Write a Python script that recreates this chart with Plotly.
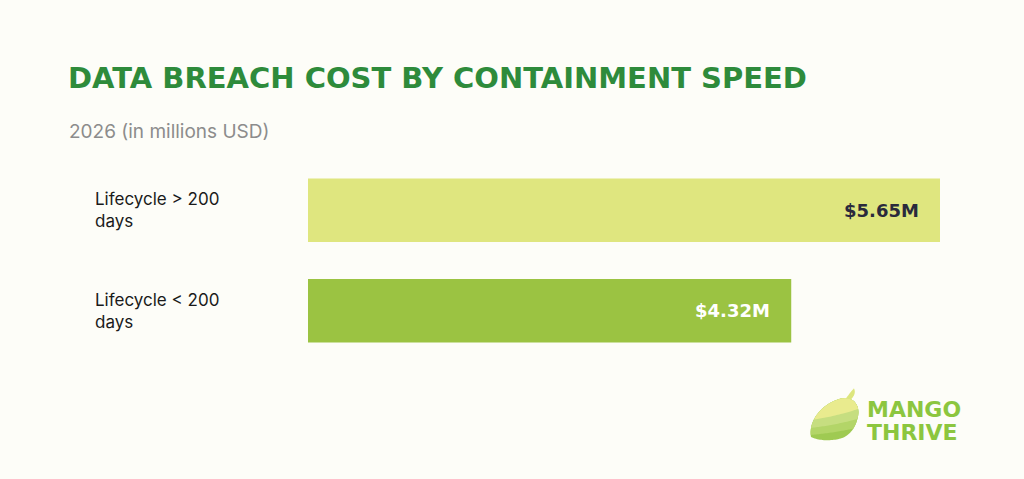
import numpy as np
import plotly.graph_objects as go

# data
categories = ["Lifecycle > 200<br>days", "Lifecycle < 200<br>days"]
costs = [5.65, 4.32]
value_labels = ["$5.65M", "$4.32M"]
bar_colors = ["#DFE67F", "#9BC342"]
value_colors = ["#2A2A3C", "#FFFFFF"]

W, H = 1024, 479
L, R = 308, 940          # plot area in pixels
T, B = 159.5, 361.5
BG = "#FDFDF8"


def px(x):
    return (x - L) / (R - L)


def py(y):
    return (B - y) / (B - T)


def bezier(p0, p1, p2, p3, n=24):
    t = np.linspace(0, 1, n)[:, None]
    p0, p1, p2, p3 = map(np.array, (p0, p1, p2, p3))
    return (1 - t)**3 * p0 + 3 * (1 - t)**2 * t * p1 + 3 * (1 - t) * t**2 * p2 + t**3 * p3


def poly_path(pts):
    s = "M " + " L ".join("%.5f,%.5f" % (px(x), py(y)) for x, y in pts)
    return s + " Z"


# mango outline (pixel coords), traced clockwise from the lower-left tip
segs = [
    ((811, 438), (808, 424), (820, 404), (842, 399)),
    ((842, 399), (855, 397), (860, 408), (858, 417)),
    ((858, 417), (856, 428), (850, 436), (842, 439)),
    ((842, 439), (832, 442), (820, 442), (811, 438)),
]
outline = np.vstack([bezier(*s) for s in segs])


def band(y_left, y_right, sag):
    # part of the mango above a gently curved line
    x = outline[:, 0]
    t = (x - 808) / 52.0
    c = y_left + (y_right - y_left) * t + sag * t * (1 - t)
    return np.column_stack([x, np.minimum(outline[:, 1], c)])


fig = go.Figure(go.Bar(
    x=costs,
    y=categories,
    orientation="h",
    width=0.634,
    marker=dict(color=bar_colors, line=dict(width=0)),
    hoverinfo="skip",
))

annotations = []
for cat, v, lab, c in zip(categories, costs, value_labels, value_colors):
    annotations.append(dict(
        x=v, y=cat, xref="x", yref="y", text="<b>%s</b>" % lab,
        showarrow=False, xanchor="right", xshift=-19,
        font=dict(family="DejaVu Sans", size=18, color=c),
    ))
    annotations.append(dict(
        x=px(93), y=cat, xref="paper", yref="y", text=cat,
        showarrow=False, xanchor="left", align="left",
        font=dict(family="Inter, Liberation Sans, Arial", size=17, color="#1A1A1A"),
    ))

annotations += [
    dict(x=px(66), y=py(77), xref="paper", yref="paper",
         text="<b>DATA BREACH COST BY CONTAINMENT SPEED</b>",
         showarrow=False, xanchor="left", yanchor="middle",
         font=dict(family="DejaVu Sans", size=29, color="#2E8B3B")),
    dict(x=px(67), y=py(131), xref="paper", yref="paper",
         text="2026 (in millions USD)",
         showarrow=False, xanchor="left", yanchor="middle",
         font=dict(family="Inter, Liberation Sans, Arial", size=19, color="#8C8C8C")),
    dict(x=px(865), y=py(410), xref="paper", yref="paper",
         text="<b>MANGO</b>", showarrow=False, xanchor="left", yanchor="middle",
         font=dict(family="DejaVu Sans", size=22, color="#8CC63F")),
    dict(x=px(865), y=py(433), xref="paper", yref="paper",
         text="<b>THRIVE</b>", showarrow=False, xanchor="left", yanchor="middle",
         font=dict(family="DejaVu Sans", size=22, color="#8CC63F")),
]

layers = [
    (outline, "#9FCA52"),
    (band(436, 428, 4), "#B3D568"),
    (band(429, 419, 5), "#C6DE80"),
    (band(421, 409, 6), "#E9EB8E"),
]
stem = np.vstack([bezier((846, 399), (849, 395), (851, 392), (854, 389)),
                  bezier((854, 389), (856, 393), (854, 397), (851, 400))])

shapes = [dict(type="path", xref="paper", yref="paper", path=poly_path(pts),
               fillcolor=col, line=dict(width=0), layer="above")
          for pts, col in layers]
shapes.append(dict(type="path", xref="paper", yref="paper", path=poly_path(stem),
                   fillcolor="#DDE67E", line=dict(width=0), layer="above"))

fig.update_layout(
    width=W, height=H,
    margin=dict(l=L, r=W - R, t=T, b=H - B, pad=0),
    paper_bgcolor=BG, plot_bgcolor=BG,
    showlegend=False,
    xaxis=dict(range=[0, costs[0]], visible=False, fixedrange=True),
    yaxis=dict(autorange="reversed", visible=False, fixedrange=True),
    annotations=annotations,
    shapes=shapes,
)

fig.write_html("out.html", config={"displayModeBar": False},
               post_script="document.body.style.margin='0';"
                           "document.body.style.background='%s';" % BG)
